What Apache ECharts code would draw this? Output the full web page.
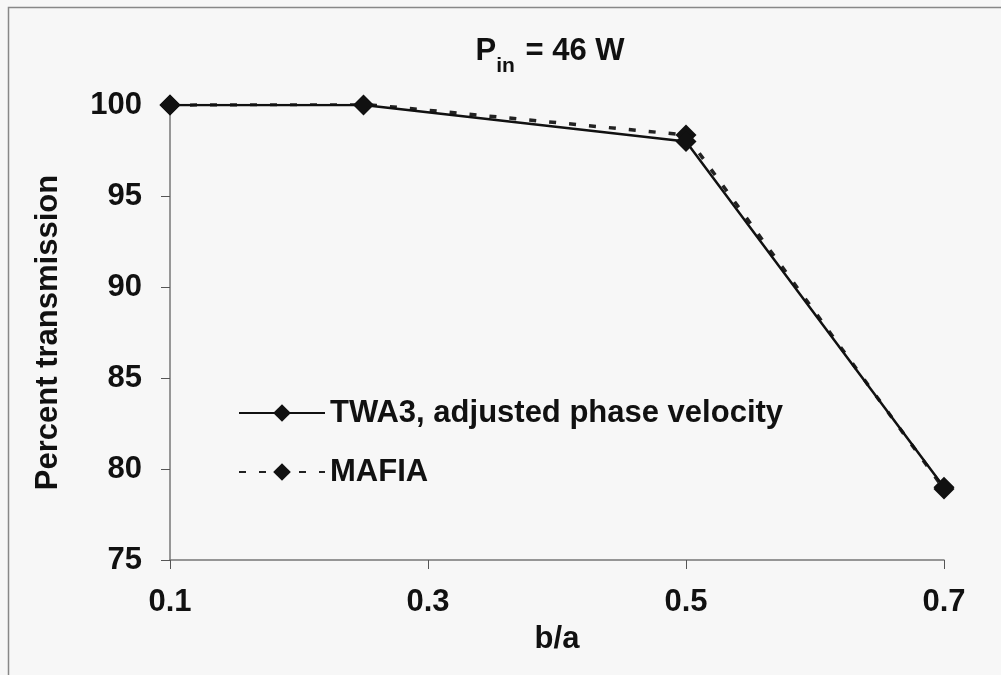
<!DOCTYPE html>
<html><head><meta charset="utf-8">
<script src="https://cdn.jsdelivr.net/npm/echarts@6/dist/echarts.min.js"></script>
<style>html,body{margin:0;padding:0;background:#f7f7f7;}#c{width:1001px;height:675px;}</style>
</head><body><div id="c"></div>
<script>
const xTicks = [0.1, 0.3, 0.5, 0.7];
const bOverA = [0.1, 0.25, 0.5, 0.7];
const twa3 = [100.0, 100.0, 98.0, 79.0];
const mafia = [100.0, 100.05, 98.35, 78.9];
const seriesNames = ['TWA3, adjusted phase velocity', 'MAFIA'];

const chart = echarts.init(document.getElementById('c'));
const font = "'Liberation Sans', Arial, sans-serif";
const pair = (xs, ys) => xs.map((x, i) => [x, ys[i]]);
chart.setOption({
  backgroundColor: '#f7f7f7',
  animation: false,
  graphic: [{
    type: 'rect', shape: {x: 8.5, y: 7.5, width: 1010, height: 700},
    style: {fill: 'none', stroke: '#888', lineWidth: 1.5}, silent: true
  }],
  title: {
    text: '{p|P}{s|in}{p| = 46 W}',
    left: 545, top: 26, textAlign: 'center',
    textStyle: {
      rich: {
        p: {fontFamily: font, fontWeight: 'bold', fontSize: 31, color: '#111', verticalAlign: 'bottom', lineHeight: 36},
        s: {fontFamily: font, fontWeight: 'bold', fontSize: 21, color: '#111', verticalAlign: 'bottom', lineHeight: 26, padding: [0, 2, -10, 0]}
      }
    }
  },
  grid: {left: 170, right: 57, top: 105, bottom: 115},
  legend: {
    orient: 'vertical', left: 233, top: 392, itemGap: 27,
    itemWidth: 86, itemHeight: 22,
    textStyle: {fontFamily: font, fontWeight: 'bold', fontSize: 31, color: '#111', lineHeight: 32},
    data: seriesNames
  },
  xAxis: {
    type: 'value', min: 0.1, max: 0.7, interval: 0.2,
    name: 'b/a', nameLocation: 'middle', nameGap: 64,
    nameTextStyle: {fontFamily: font, fontWeight: 'bold', fontSize: 31, color: '#111'},
    axisLine: {show: true, lineStyle: {color: '#777', width: 1.5}},
    axisTick: {show: true, length: 9, lineStyle: {color: '#555'}},
    splitLine: {show: false},
    axisLabel: {fontFamily: font, fontWeight: 'bold', fontSize: 31, color: '#111', margin: 27,
      formatter: v => v.toFixed(1)}
  },
  yAxis: {
    type: 'value', min: 75, max: 100, interval: 5,
    name: 'Percent transmission', nameLocation: 'middle', nameGap: 106, nameRotate: 90,
    nameTextStyle: {fontFamily: font, fontWeight: 'bold', fontSize: 31, color: '#111'},
    axisLine: {show: true, lineStyle: {color: '#777', width: 1.5}},
    axisTick: {show: true, length: 9, lineStyle: {color: '#555'}},
    splitLine: {show: false},
    axisLabel: {fontFamily: font, fontWeight: 'bold', fontSize: 31, color: '#111', margin: 28}
  },
  series: [
    {
      name: seriesNames[1], type: 'line', data: pair(bOverA, mafia),
      symbol: 'diamond', symbolSize: 21,
      itemStyle: {color: '#111'},
      lineStyle: {color: '#222', width: 3.5, type: [7, 13]}, z: 2
    },
    {
      name: seriesNames[0], type: 'line', data: pair(bOverA, twa3),
      symbol: 'diamond', symbolSize: 21,
      itemStyle: {color: '#111'},
      lineStyle: {color: '#111', width: 2.5}, z: 3
    }
  ]
});
</script></body></html>
